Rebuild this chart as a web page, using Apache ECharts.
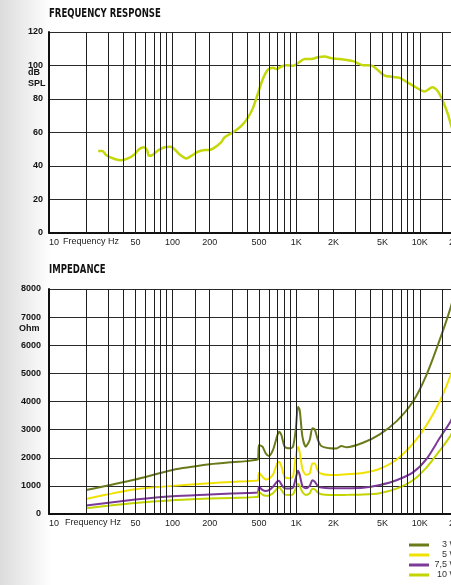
<!DOCTYPE html>
<html>
<head>
<meta charset="utf-8">
<script src="https://cdn.jsdelivr.net/npm/echarts@6/dist/echarts.min.js"></script>
<style>html,body{margin:0;padding:0;background:#fff}#c{width:451px;height:585px}</style>
</head>
<body>
<div id="c"></div>
<script>
// ---------- DATA ----------
const gridFreqs = [20,30,40,50,60,70,80,90,100,150,200,300,400,500,600,700,800,900,1000,1500,2000,3000,4000,5000,6000,7000,8000,9000,10000,15000,20000];
const xTickFreqs = [10,50,100,200,500,1000,2000,5000,10000,20000];
const xTickLabels = ['10','50','100','200','500','1K','2K','5K','10K','20K'];
const splTicks = [0,20,40,60,80,100,120];
const ohmTicks = [0,1000,2000,3000,4000,5000,6000,7000,8000];

const frFreq = [25,27,29,34,38.5,43.5,49,53.5,58.5,62,64.5,68.5,76,86,95,101,114,129,142,160,182,196,212,248,264,308,360,407,447,491,539,591,649,692,759,833,942,1034,1172,1327,1500,1700,1930,2250,2880,3470,4060,4590,5200,6070,6880,7790,9090,10950,12650,14030,15400,16900,17800,19500];
const frDb   = [49,49,46.5,44.2,43.4,44.5,46.9,50,51.2,49.6,46.1,46.5,49.2,51.2,51.5,50.8,46.9,44.5,46.1,48.5,49.6,49.6,50.4,54.3,57.2,60.1,64,68.9,74.7,83.5,92.2,97.5,98.7,97.9,99.4,100.2,99.8,101.4,103.9,103.9,104.9,105.3,104.3,103.9,102.6,100.2,100,97.1,94,93.2,92.6,90.3,87.4,84.5,87,84.5,78.6,70.8,65,56];

const impFreq = [20,50,100,200,300,400,461,490,500,533,567,603,649,699,726,759,807,886,942,991,1034,1067,1123,1194,1286,1352,1411,1501,1599,1866,2114,2321,2547,3470,4740,6470,8810,11310,14490,17780,20000];
const imp3W  = [854,1230,1565,1765,1840,1880,1920,1940,2453,2393,2158,2062,2276,2750,2927,2809,2393,2336,2393,2987,3816,3698,2750,2393,2631,3047,3012,2631,2418,2336,2330,2418,2371,2533,2833,3294,4000,4940,6190,7350,8200];
const imp5W  = [537,878,1000,1094,1141,1165,1180,1190,1470,1330,1230,1260,1400,1778,1860,1700,1320,1270,1330,2038,2393,2200,1600,1400,1440,1800,1800,1520,1430,1390,1390,1400,1410,1460,1610,1930,2500,3150,4000,4940,5600];
const imp75W = [305,512,634,695,732,745,757,765,970,860,820,850,970,1150,1185,1050,913,905,930,1270,1540,1400,1000,913,1000,1200,1150,990,940,913,913,913,915,930,1030,1200,1480,1950,2700,3300,3800];
const imp10W = [207,390,488,549,573,585,600,610,793,690,650,660,735,900,950,860,690,676,700,913,1067,1000,780,680,740,900,880,760,700,676,676,676,680,690,740,900,1200,1650,2250,2800,3300];

const seriesNames = ['3 W','5 W','7,5 W','10 W'];
const seriesColors = ['#6b7b1c','#f0e200','#7b3a97','#c3d500'];
const impValues = [imp3W, imp5W, imp75W, imp10W];

const titleFR = 'FREQUENCY RESPONSE';
const titleImp = 'IMPEDANCE';
const xName = 'Frequency Hz';
const frUnitLines = ['dB','SPL'];
const impUnit = 'Ohm';

// ---------- CHART ----------
const L = Math.log10;
const chart = echarts.init(document.getElementById('c'), null, {renderer:'canvas'});
const labelFont = '"Liberation Sans", Arial, sans-serif';
const titleFont = 'bold 12px "DejaVu Sans", sans-serif';

function xAxisDef(gridIndex){
  return {
    type:'value', gridIndex, min:1, max:L(20000),
    axisLine:{show:true, onZero:false, lineStyle:{color:'#111', width:2}},
    axisTick:{show:false},
    splitLine:{show:false},
    axisLabel:{
      show:true, customValues: xTickFreqs.map(L), margin:5, hideOverlap:false,
      showMinLabel:true, showMaxLabel:true, alignMinLabel:'left',
      color:'#222', fontSize:9, fontFamily:labelFont,
      formatter:(v)=>{ let best=0, d=1e9; xTickFreqs.forEach((f,i)=>{const dd=Math.abs(L(f)-v); if(dd<d){d=dd;best=i;}}); return xTickLabels[best]; }
    }
  };
}
function vLines(gridIndex){
  return {
    type:'line', xAxisIndex:gridIndex, yAxisIndex:gridIndex, data:[], z:1, silent:true,
    markLine:{
      silent:true, symbol:['none','none'], animation:false,
      label:{show:false},
      lineStyle:{color:'#1e1e1e', width:1, type:'solid'},
      emphasis:{disabled:true},
      data: gridFreqs.map(f=>({xAxis:L(f)}))
    }
  };
}

const option = {
  animation:false,
  backgroundColor:'#ffffff',
  graphic:[
    {type:'rect', left:0, top:0, z:-10, silent:true, shape:{width:52, height:585},
     style:{fill:new echarts.graphic.LinearGradient(0,0,1,0,[{offset:0,color:'#dcdcdc'},{offset:1,color:'#ffffff'}])}},
    {type:'text', x:49, y:8, scaleX:0.71, style:{text:titleFR, fill:'#111', font:titleFont}},
    {type:'text', x:49, y:264, scaleX:0.71, style:{text:titleImp, fill:'#111', font:titleFont}},
    {type:'text', left:28, top:68, style:{text:frUnitLines[0], fill:'#111', font:'bold 9px '+labelFont}},
    {type:'text', left:28, top:79, style:{text:frUnitLines[1], fill:'#111', font:'bold 9px '+labelFont}},
    {type:'text', left:19, top:324, style:{text:impUnit, fill:'#111', font:'bold 9px '+labelFont}},
    {type:'text', x:91, y:242, style:{text:xName, fill:'#222', font:'9px '+labelFont, align:'center', verticalAlign:'middle'}},
    {type:'text', x:93, y:523, style:{text:xName, fill:'#222', font:'9px '+labelFont, align:'center', verticalAlign:'middle'}}
  ],
  grid:[
    {left:49, right:-6, top:32, bottom:352, outerBoundsMode:'none', containLabel:false},
    {left:49, right:-6, top:289, bottom:71, outerBoundsMode:'none', containLabel:false}
  ],
  xAxis:[xAxisDef(0), xAxisDef(1)],
  yAxis:[
    {type:'value', gridIndex:0, min:0, max:120, interval:20,
     axisLine:{show:true, lineStyle:{color:'#111', width:2}}, axisTick:{show:false},
     splitLine:{show:true, lineStyle:{color:'#2a2a2a', width:1}},
     axisLabel:{margin:6, color:'#111', fontSize:9, fontWeight:'bold', fontFamily:labelFont, customValues:splTicks, formatter:(v)=>String(v)}},
    {type:'value', gridIndex:1, min:0, max:8000, interval:1000,
     axisLine:{show:true, lineStyle:{color:'#111', width:2}}, axisTick:{show:false},
     splitLine:{show:true, lineStyle:{color:'#2a2a2a', width:1}},
     axisLabel:{margin:8, color:'#111', fontSize:9, fontWeight:'bold', fontFamily:labelFont, customValues:ohmTicks, formatter:(v)=>String(v)}}
  ],
  legend:{
    orient:'vertical', left:409, top:540, padding:0, itemWidth:20, itemHeight:3, itemGap:0, icon:'rect',
    data:seriesNames,
    formatter:(n)=>'{r|'+n+'}',
    textStyle:{color:'#333', fontSize:9, fontFamily:labelFont, lineHeight:10,
      rich:{r:{width:24, align:'right', fontSize:9, fontFamily:labelFont, color:'#333', lineHeight:10}}}
  },
  series:[
    vLines(0), vLines(1),
    {type:'line', name:'FR', xAxisIndex:0, yAxisIndex:0, z:3, showSymbol:false, smooth:0.3,
     lineStyle:{color:'#c4d70a', width:2.5}, itemStyle:{color:'#c4d70a'},
     data: frFreq.map((f,i)=>[L(f), frDb[i]])},
    ...seriesNames.map((n,k)=>({
      type:'line', name:n, xAxisIndex:1, yAxisIndex:1, z:3, showSymbol:false, smooth:0.25,
      lineStyle:{color:seriesColors[k], width:2}, itemStyle:{color:seriesColors[k]},
      data: impFreq.map((f,i)=>[L(f), impValues[k][i]])
    }))
  ]
};
chart.setOption(option);
</script>
</body>
</html>
